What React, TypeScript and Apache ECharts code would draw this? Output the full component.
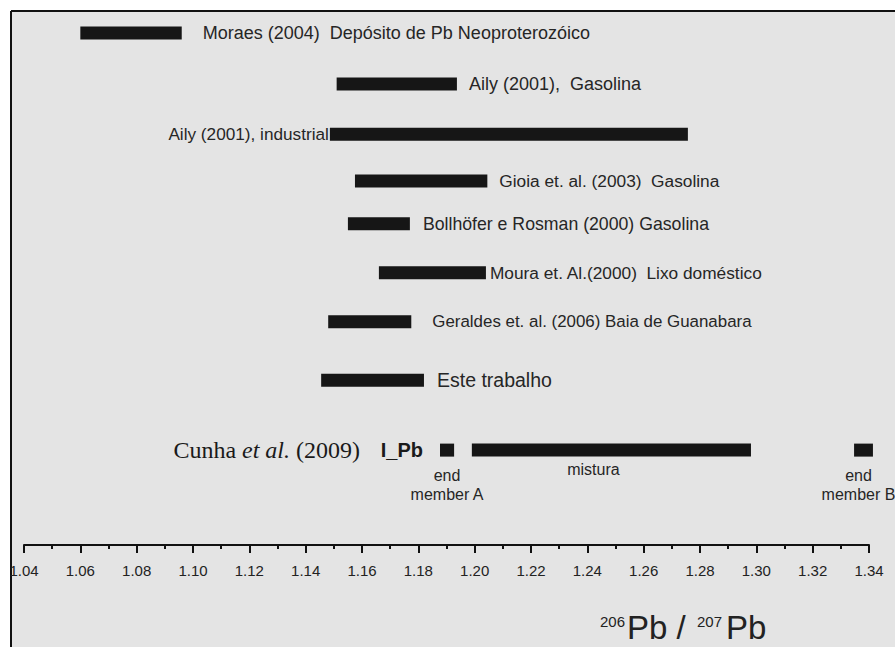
import { useEffect, useRef } from "react";
import * as echarts from "echarts";

// ---- data ----
const studyLabels = [
  "Moraes (2004)  Depósito de Pb Neoproterozóico",
  "Aily (2001),  Gasolina",
  "Aily (2001), industrial",
  "Gioia et. al. (2003)  Gasolina",
  "Bollhöfer e Rosman (2000) Gasolina",
  "Moura et. Al.(2000)  Lixo doméstico",
  "Geraldes et. al. (2006) Baia de Guanabara",
  "Este trabalho",
];
const ratioMin = [1.06, 1.151, 1.1486, 1.1575, 1.155, 1.166, 1.148, 1.1455];
const ratioMax = [1.096, 1.1937, 1.2757, 1.2045, 1.177, 1.204, 1.1775, 1.182];
const rowLevel = [0, 0.98, 1.94, 2.84, 3.66, 4.6, 5.54, 6.66];

const cunhaSegmentLabels = ["end\nmember A", "mistura", "end\nmember B"];
const cunhaMin = [1.1877, 1.199, 1.3347];
const cunhaMax = [1.1927, 1.2981, 1.3414];
const cunhaLevel = [8, 8, 8];

const axisMin = 1.04;
const axisMax = 1.34;
const majorStep = 0.02;

// ---- styling (not data) ----
const SANS = "Liberation Sans, Arial, sans-serif";
const SERIF = "Liberation Serif, Times New Roman, serif";

const labelSide = ["right", "right", "left", "right", "right", "right", "right", "right"];
const labelGap = [21, 12, 1, 12, 13, 4, 21, 13];
const labelSize = [18, 18, 17.2, 17.3, 17.7, 17.3, 16.9, 19.5];
const segLabelDy = [16, 10, 16];
const segLabelDx = [0, -18, -5];

const BAR_H = 13;
const BAR_COLOR = "#161616";
const TEXT_COLOR = "#262626";

export default function App() {
  const ref = useRef<HTMLDivElement>(null);

  useEffect(() => {
    if (!ref.current) return;
    const chart = echarts.init(ref.current, undefined, { renderer: "svg" });

    const studyData = studyLabels.map((_, i) => [ratioMin[i], ratioMax[i], rowLevel[i]]);
    const cunhaData = cunhaSegmentLabels.map((_, i) => [cunhaMin[i], cunhaMax[i], cunhaLevel[i]]);

    const option: any = {
      animation: false,
      backgroundColor: "#ffffff",
      grid: { left: 24, right: 26, top: 33, bottom: 102, containLabel: false },
      xAxis: {
        type: "value",
        min: axisMin,
        max: axisMax,
        interval: majorStep,
        position: "bottom",
        splitLine: { show: false },
        axisLine: { show: true, onZero: false, lineStyle: { color: "#111", width: 2 } },
        axisTick: { show: true, length: 8, lineStyle: { color: "#111", width: 2 } },
        minorTick: { show: true, splitNumber: 2, length: 4, lineStyle: { color: "#111", width: 2 } },
        axisLabel: {
          margin: 18,
          fontFamily: SANS,
          fontSize: 15,
          color: "#222",
          formatter: (v: number) => v.toFixed(2),
        },
      },
      yAxis: { type: "value", min: 0, max: 9.82, inverse: true, show: false },
      graphic: [
        {
          type: "rect",
          z: -10,
          shape: { x: 11, y: 11, width: 884, height: 636 },
          style: { fill: "#e4e4e4" },
        },
        { type: "line", z: -5, shape: { x1: 11, y1: 11, x2: 895, y2: 11 }, style: { stroke: "#111", lineWidth: 2 } },
        { type: "line", z: -5, shape: { x1: 11, y1: 11, x2: 11, y2: 647 }, style: { stroke: "#111", lineWidth: 2 } },
        {
          type: "text",
          x: 600,
          y: 621,
          style: { text: "206", fontFamily: SANS, fontSize: 15, fill: "#222", align: "left", verticalAlign: "middle" },
        },
        {
          type: "text",
          x: 627,
          y: 627,
          style: { text: "Pb /", fontFamily: SANS, fontSize: 33, fill: "#222", align: "left", verticalAlign: "middle" },
        },
        {
          type: "text",
          x: 697,
          y: 621,
          style: { text: "207", fontFamily: SANS, fontSize: 15, fill: "#222", align: "left", verticalAlign: "middle" },
        },
        {
          type: "text",
          x: 726,
          y: 627,
          style: { text: "Pb", fontFamily: SANS, fontSize: 33, fill: "#222", align: "left", verticalAlign: "middle" },
        },
      ],
      series: [
        {
          type: "custom",
          clip: false,
          encode: { x: [0, 1], y: 2 },
          data: studyData,
          renderItem: (params: any, api: any) => {
            const i = params.dataIndex;
            const p0 = api.coord([api.value(0), api.value(2)]);
            const p1 = api.coord([api.value(1), api.value(2)]);
            const left = labelSide[i] === "left";
            return {
              type: "group",
              children: [
                {
                  type: "rect",
                  shape: { x: p0[0], y: p0[1] - BAR_H / 2, width: p1[0] - p0[0], height: BAR_H },
                  style: { fill: BAR_COLOR },
                },
                {
                  type: "text",
                  x: left ? p0[0] - labelGap[i] : p1[0] + labelGap[i],
                  y: p0[1],
                  style: {
                    text: studyLabels[i],
                    fontFamily: SANS,
                    fontSize: labelSize[i],
                    fill: TEXT_COLOR,
                    align: left ? "right" : "left",
                    verticalAlign: "middle",
                  },
                },
              ],
            };
          },
        },
        {
          type: "custom",
          clip: false,
          encode: { x: [0, 1], y: 2 },
          data: cunhaData,
          renderItem: (params: any, api: any) => {
            const i = params.dataIndex;
            const p0 = api.coord([api.value(0), api.value(2)]);
            const p1 = api.coord([api.value(1), api.value(2)]);
            const children: any[] = [
              {
                type: "rect",
                shape: { x: p0[0], y: p0[1] - BAR_H / 2, width: p1[0] - p0[0], height: BAR_H },
                style: { fill: BAR_COLOR },
              },
              {
                type: "text",
                x: (p0[0] + p1[0]) / 2 + segLabelDx[i],
                y: p0[1] + segLabelDy[i],
                style: {
                  text: cunhaSegmentLabels[i],
                  fontFamily: SANS,
                  fontSize: 16,
                  lineHeight: 19,
                  fill: TEXT_COLOR,
                  align: "center",
                  verticalAlign: "top",
                },
              },
            ];
            if (i === 0) {
              children.push({
                type: "text",
                x: p0[0] - 17,
                y: p0[1],
                style: {
                  text: "I_Pb",
                  fontFamily: SANS,
                  fontWeight: "bold",
                  fontSize: 20,
                  fill: "#1a1a1a",
                  align: "right",
                  verticalAlign: "middle",
                },
              });
              children.push({
                type: "text",
                x: p0[0] - 80,
                y: p0[1],
                style: {
                  text: "{r|Cunha }{i|et al.}{r| (2009)}",
                  align: "right",
                  verticalAlign: "middle",
                  rich: {
                    r: { fontFamily: SERIF, fontSize: 24, fill: "#1a1a1a", color: "#1a1a1a" },
                    i: { fontFamily: SERIF, fontSize: 24, fontStyle: "italic", fill: "#1a1a1a", color: "#1a1a1a" },
                  },
                },
              });
            }
            return { type: "group", children };
          },
        },
      ],
    };

    chart.setOption(option);
    return () => chart.dispose();
  }, []);

  return (
    <div
      ref={ref}
      style={{ position: "absolute", left: 0, top: 0, width: 895, height: 647 }}
    />
  );
}
